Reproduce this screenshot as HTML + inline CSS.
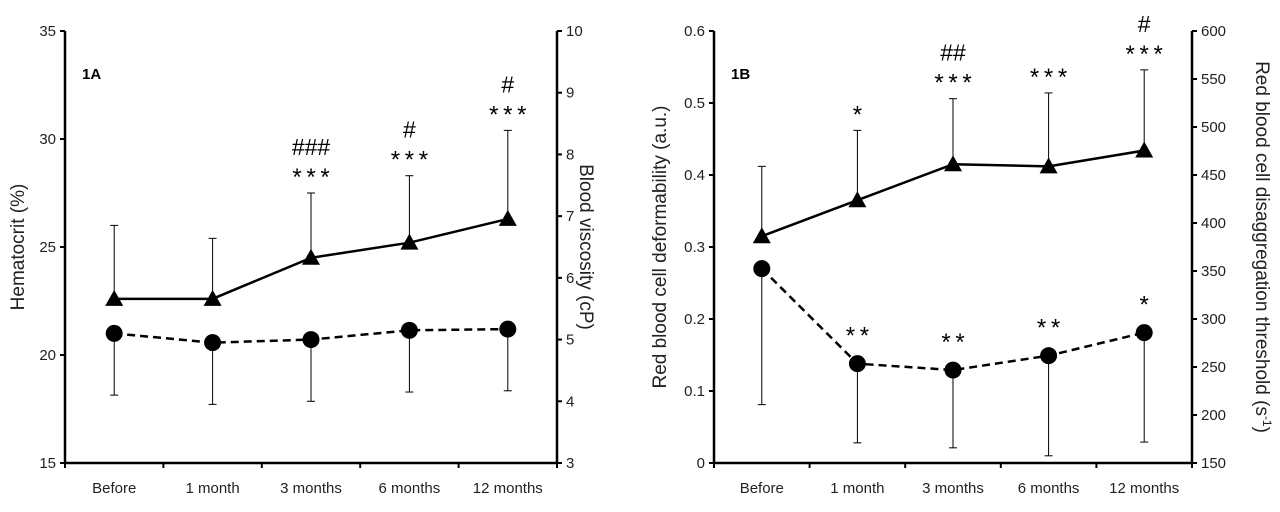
<!DOCTYPE html>
<html><head><meta charset="utf-8"><style>
html,body{margin:0;padding:0;background:#fff;}
svg{display:block;font-family:"Liberation Sans","DejaVu Sans",sans-serif;}
</style></head><body>
<svg id="c" width="1280" height="512" viewBox="0 0 1280 512" xmlns="http://www.w3.org/2000/svg"></svg>
<script>
const categories = ["Before","1 month","3 months","6 months","12 months"];
// Panel A
const hctValues = [22.6, 22.6, 24.5, 25.2, 26.3];
const hctErrTop = [26.0, 25.4, 27.5, 28.3, 30.4];
const viscValues = [5.1, 4.95, 5.0, 5.15, 5.17];
const viscErrBottom = [4.1, 3.95, 4.0, 4.15, 4.17];
const aLeftTicks = [15,20,25,30,35];
const aRightTicks = [3,4,5,6,7,8,9,10];
const aUpperAnnot = [["",""],["",""],["###","***"],["#","***"],["#","***"]];
// Panel B
const defValues = [0.315, 0.365, 0.415, 0.412, 0.434];
const defErrTop = [0.412, 0.462, 0.506, 0.514, 0.546];
const aggValues = [352.5, 253.5, 246.8, 261.8, 285.8];
const aggErrBottom = [210.8, 171, 165.8, 157.5, 171.8];
const bLeftTicks = [0,0.1,0.2,0.3,0.4,0.5,0.6];
const bRightTicks = [150,200,250,300,350,400,450,500,550,600];
const bUpperAnnot = [["",""],["","*"],["##","***"],["","***"],["#","***"]];
const bLowerAnnot = ["","**","**","**","*"];

const svg = document.getElementById('c');
const NS = "http://www.w3.org/2000/svg";
function mk(tag, attrs, name, text){
  const e = document.createElementNS(NS, tag);
  for (const k in attrs) e.setAttribute(k, attrs[k]);
  
  
  if (text !== undefined) e.textContent = text;
  svg.appendChild(e); return e;
}
function stars(x,y,s,name){
  const n=s.length, gap=14;
  const g=mk('text',{x:x,y:y,'text-anchor':'middle','font-size':24},name,'');
  for(let k=0;k<n;k++){
    const t=document.createElementNS(NS,'tspan');
    t.setAttribute('x', x+(k-(n-1)/2)*gap);
    t.setAttribute('y', y);
    t.textContent='*';
    g.appendChild(t);
  }
}
function panel(o){
  const top = 31, bot = 463;
  const step = (o.x1 - o.x0) / categories.length;
  const xs = i => o.x0 + step*(i+0.5);
  const yl = v => bot - (v - o.lmin)/(o.lmax - o.lmin)*(bot-top);
  const yr = v => bot - (v - o.rmin)/(o.rmax - o.rmin)*(bot-top);
  mk('line',{x1:o.x0,y1:top,x2:o.x0,y2:bot,stroke:'#000','stroke-width':2.5},'left-y-axis');
  mk('line',{x1:o.x1,y1:top,x2:o.x1,y2:bot,stroke:'#000','stroke-width':2.5},'right-y-axis');
  mk('line',{x1:o.x0,y1:bot,x2:o.x1,y2:bot,stroke:'#000','stroke-width':2.5},'x-axis');
  for (let i=0;i<=categories.length;i++){
    const x=o.x0+step*i;
    mk('line',{x1:x,y1:bot,x2:x,y2:bot+5,stroke:'#000','stroke-width':2},'x-tick');
  }
  categories.forEach((c,i)=>mk('text',{x:xs(i),y:bot+30,'text-anchor':'middle','font-size':15,fill:'#222'},'x-tick-label',c));
  o.lt.forEach(v=>{
    mk('line',{x1:o.x0-5,y1:yl(v),x2:o.x0,y2:yl(v),stroke:'#000','stroke-width':2},'left-tick');
    mk('text',{x:o.x0-9,y:yl(v)+5,'text-anchor':'end','font-size':15,fill:'#222'},'left-tick-label',o.fmtL(v));
  });
  o.rt.forEach(v=>{
    mk('line',{x1:o.x1,y1:yr(v),x2:o.x1+5,y2:yr(v),stroke:'#000','stroke-width':2},'right-tick');
    mk('text',{x:o.x1+9,y:yr(v)+5,'text-anchor':'start','font-size':15,fill:'#222'},'right-tick-label',String(v));
  });
  mk('text',{x:o.x0+17,y:79,'font-size':15,'font-weight':'bold'},'panel-label',o.label);
  mk('text',{transform:`translate(${o.ltx},${(top+bot)/2}) rotate(-90)`,'text-anchor':'middle','font-size':19,fill:'#222'},'left-y-axis-title',o.ltitle);
  const rt = mk('text',{transform:`translate(${o.rtx},${(top+bot)/2}) rotate(90)`,'text-anchor':'middle','font-size':19,fill:'#222'},'right-y-axis-title',o.rtitle);
  if (o.sup){ const ts=document.createElementNS(NS,'tspan'); ts.setAttribute('baseline-shift','super'); ts.setAttribute('font-size','12'); ts.textContent='-1'; rt.appendChild(ts); rt.appendChild(document.createTextNode(')')); }
  o.tv.forEach((v,i)=>{
    const x=xs(i);
    mk('line',{x1:x,y1:yl(v),x2:x,y2:yl(o.te[i]),stroke:'#000','stroke-width':1},'triangle-error-bar');
    mk('line',{x1:x-4,y1:yl(o.te[i]),x2:x+4,y2:yl(o.te[i]),stroke:'#000','stroke-width':1},'triangle-error-cap');
  });
  o.cv.forEach((v,i)=>{
    const x=xs(i);
    mk('line',{x1:x,y1:yr(v),x2:x,y2:yr(o.ce[i]),stroke:'#000','stroke-width':1},'circle-error-bar');
    mk('line',{x1:x-4,y1:yr(o.ce[i]),x2:x+4,y2:yr(o.ce[i]),stroke:'#000','stroke-width':1},'circle-error-cap');
  });
  mk('polyline',{points:o.tv.map((v,i)=>xs(i)+','+yl(v)).join(' '),fill:'none',stroke:'#000','stroke-width':2.5},'triangle-series-line');
  mk('polyline',{points:o.cv.map((v,i)=>xs(i)+','+yr(v)).join(' '),fill:'none',stroke:'#000','stroke-width':2.5,'stroke-dasharray':'8,5'},'circle-series-line');
  o.tv.forEach((v,i)=>{const x=xs(i),y=yl(v);
    mk('polygon',{points:`${x},${y-9} ${x-9},${y+7} ${x+9},${y+7}`,fill:'#000'},'triangle-marker');});
  o.cv.forEach((v,i)=>{mk('circle',{cx:xs(i),cy:yr(v),r:8.5,fill:'#000'},'circle-marker');});
  o.ua.forEach((a,i)=>{
    const base = yl(o.te[i]);
    if (a[1]) stars(xs(i), base-8, a[1], 'significance-stars');
    if (a[0]) mk('text',{x:xs(i),y:base-38,'text-anchor':'middle','font-size':23},'significance-hash',a[0]);
  });
  if (o.la) o.la.forEach((a,i)=>{
    if (a) stars(xs(i), yr(o.cv[i])-20, a, 'significance-stars-lower');
  });
}
panel({x0:65,x1:557,lmin:15,lmax:35,rmin:3,rmax:10,lt:aLeftTicks,rt:aRightTicks,fmtL:v=>String(v),
  label:'1A',ltitle:'Hematocrit (%)',rtitle:'Blood viscosity (cP)',ltx:24,rtx:580,
  tv:hctValues,te:hctErrTop,cv:viscValues,ce:viscErrBottom,ua:aUpperAnnot});
panel({x0:714,x1:1192,lmin:0,lmax:0.6,rmin:150,rmax:600,lt:bLeftTicks,rt:bRightTicks,fmtL:v=>String(v),
  label:'1B',ltitle:'Red blood cell deformability (a.u.)',rtitle:'Red blood cell disaggregation threshold (s',sup:true,ltx:666,rtx:1256,
  tv:defValues,te:defErrTop,cv:aggValues,ce:aggErrBottom,ua:bUpperAnnot,la:bLowerAnnot});
</script>
</body></html>
